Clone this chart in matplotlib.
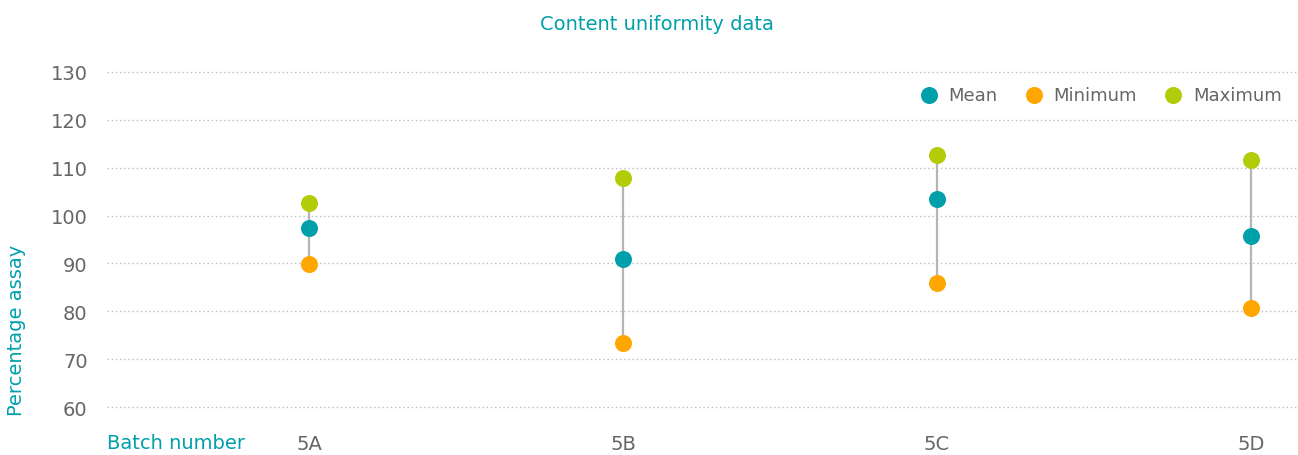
import matplotlib

matplotlib.use("Agg")

import matplotlib.pyplot as plt
import numpy as np

# values
BATCHES = ["5A", "5B", "5C", "5D"]
MEAN = [97.4, 90.9, 103.5, 95.7]
MINIMUM = [89.9, 73.4, 85.9, 80.7]
MAXIMUM = [102.6, 107.9, 112.7, 111.6]
Y_TICKS = [60, 70, 80, 90, 100, 110, 120, 130]

TEAL = "#00A0AB"
ORANGE = "#FFA600"
GREEN = "#B2CC0A"
GREY_TEXT = "#666666"
W, H = 1298, 456

plt.rcParams["font.family"] = ["DejaVu Sans"]

# y=130 sits at pixel 73, y=60 at pixel 408; pad half a unit each side
px_per_unit = (408 - 73) / 70
top_px = 73 - 0.5 * px_per_unit
bot_px = 408 + 0.5 * px_per_unit

fig = plt.figure(figsize=(W / 100, H / 100), dpi=100)
ax = fig.add_axes([107 / W, 1 - bot_px / H, 1 - 107 / W, (bot_px - top_px) / H])

x = np.arange(len(BATCHES))
ax.vlines(x, MINIMUM, MAXIMUM, color="#b5b5b5", linewidth=1.6, zorder=2)

marker_size = 150
ax.scatter(x, MEAN, s=marker_size, color=TEAL, label="Mean", zorder=3, linewidths=0)
ax.scatter(x, MINIMUM, s=marker_size, color=ORANGE, label="Minimum", zorder=3, linewidths=0)
ax.scatter(x, MAXIMUM, s=marker_size, color=GREEN, label="Maximum", zorder=3, linewidths=0)

ax.set_xlim((107 - 309) / 314, (W - 309) / 314)
ax.set_ylim(59.5, 130.5)
ax.set_yticks(Y_TICKS)
ax.set_xticks(x)
ax.set_xticklabels(BATCHES)
ax.yaxis.grid(True, linestyle=(0, (1, 2)), color="#bdbdbd", linewidth=1.0)
ax.set_axisbelow(True)
for side in ["top", "right", "left", "bottom"]:
    ax.spines[side].set_visible(False)
ax.tick_params(axis="y", length=0, pad=14, labelsize=14, labelcolor=GREY_TEXT)
ax.tick_params(axis="x", length=0, pad=18, labelsize=14, labelcolor=GREY_TEXT)

leg = ax.legend(
    loc="upper right",
    bbox_to_anchor=(1.0, 1.0),
    ncol=3,
    frameon=False,
    fontsize=13,
    handletextpad=0.1,
    columnspacing=1.0,
    markerscale=1.0,
)
for t in leg.get_texts():
    t.set_color(GREY_TEXT)

fig.text(657 / W, 1 - 25 / H, "Content uniformity data", color=TEAL,
         fontsize=14, ha="center", va="center")
fig.text(107 / W, 1 - 444 / H, "Batch number", color=TEAL,
         fontsize=14, ha="left", va="center")
fig.text(17 / W, 1 - 330 / H, "Percentage assay", color=TEAL,
         fontsize=14, ha="center", va="center", rotation=90)

fig.savefig("out.png", dpi=100)
plt.close(fig)
